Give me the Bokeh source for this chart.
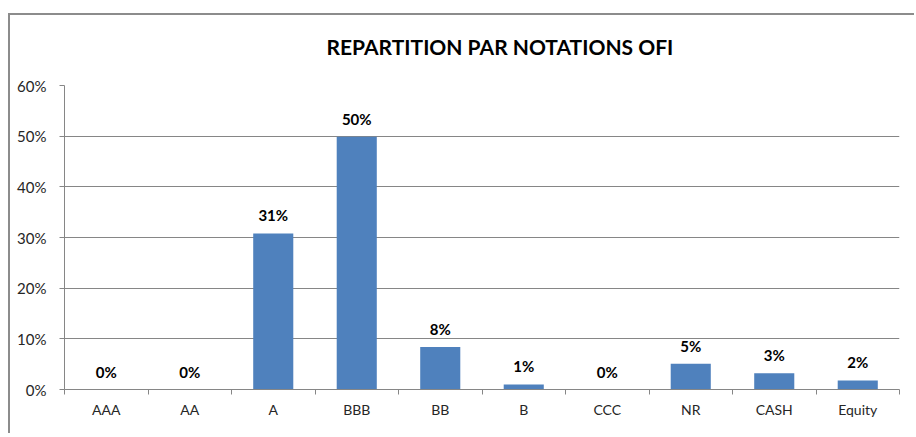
from bokeh.plotting import figure
from bokeh.models import ColumnDataSource, Range1d, FixedTicker, NumeralTickFormatter, Title
from bokeh.core.properties import value
from bokeh.embed import file_html
from bokeh.resources import INLINE

# ---- data ----
categories = ["AAA", "AA", "A", "BBB", "BB", "B", "CCC", "NR", "CASH", "Equity"]
values = [0.0, 0.0, 0.308, 0.499, 0.084, 0.010, 0.0, 0.051, 0.032, 0.018]
y_ticks = [0.0, 0.1, 0.2, 0.3, 0.4, 0.5, 0.6]
title_text = "REPARTITION PAR NOTATIONS OFI"

positions = [i + 0.5 for i in range(len(categories))]
labels = [f"{round(v * 100)}%" for v in values]

source = ColumnDataSource(dict(x=positions, value=values, label=labels, cat=categories))

FONT = "Lato"
GRAY = "#868686"

p = figure(width=906, height=420, output_backend="svg", toolbar_location=None,
           x_range=Range1d(0, len(categories)), y_range=Range1d(0, 0.6),
           min_border_left=54, min_border_right=17, min_border_top=70, min_border_bottom=46,
           title=None)
p.styles = {"border-top": "2px solid #8c8c8c", "border-left": "2px solid #8c8c8c",
            "margin-top": "13px", "margin-left": "8px"}
p.outline_line_color = None
p.background_fill_color = "white"
p.border_fill_color = "white"

# spacer between the title and the plot area
p.add_layout(Title(text=" ", text_font_size="1px", standoff=5), "above")
p.add_layout(Title(text=title_text, text_font=FONT, text_font_size="21px",
                   text_font_style="bold", text_color="#000000", align="left",
                   offset=262, vertical_align="top", standoff=34), "above")

p.vbar(x="x", top="value", width=0.48, bottom=0, source=source,
       fill_color="#4F81BD", line_color=None)

p.text(x="x", y="value", text="label", source=source, text_align="center",
       text_baseline="bottom", y_offset=-9, text_font=value(FONT), text_font_size="15px",
       text_font_style="bold", text_color="#000000")

# x axis: labels at category centres, tick marks at category boundaries
xa = p.xaxis[0]
xa.ticker = FixedTicker(ticks=positions, minor_ticks=list(range(len(categories) + 1)))
xa.major_label_overrides = {pos: cat for pos, cat in zip(positions, categories)}
xa.major_tick_out = 0
xa.major_tick_in = 0
xa.minor_tick_out = 5
xa.minor_tick_in = 0
xa.minor_tick_line_color = GRAY
xa.axis_line_color = GRAY
xa.major_label_text_font = FONT
xa.major_label_text_font_size = "14px"
xa.major_label_text_color = "#262626"
xa.major_label_standoff = 6

ya = p.yaxis[0]
ya.ticker = FixedTicker(ticks=y_ticks)
ya.formatter = NumeralTickFormatter(format="0%")
ya.major_tick_out = 5
ya.major_tick_in = 0
ya.minor_tick_line_color = None
ya.major_tick_line_color = GRAY
ya.axis_line_color = GRAY
ya.major_label_text_font = FONT
ya.major_label_text_font_size = "15px"
ya.major_label_text_color = "#262626"
ya.major_label_standoff = 13

p.xgrid.grid_line_color = None
p.ygrid.ticker = FixedTicker(ticks=y_ticks)
p.ygrid.grid_line_color = GRAY
p.ygrid.grid_line_width = 1

open("out.html", "w").write(file_html(p, INLINE))
